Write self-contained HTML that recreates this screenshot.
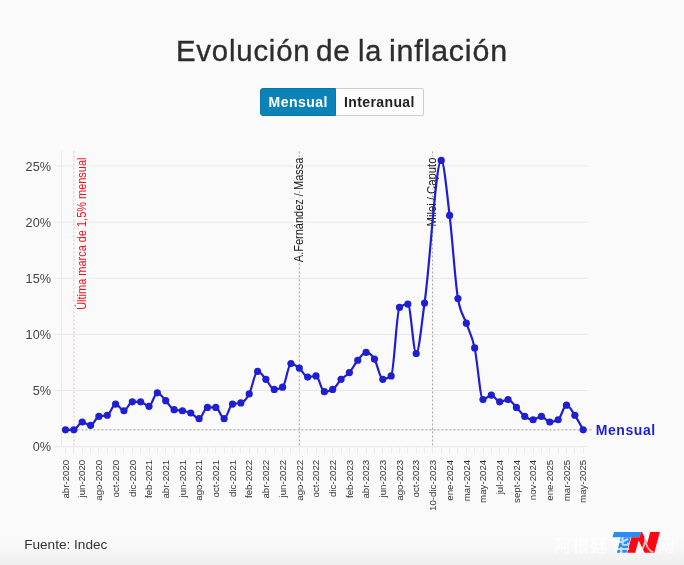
<!DOCTYPE html>
<html lang="es"><head><meta charset="utf-8"><title>Evolución de la inflación</title>
<style>
html,body{margin:0;padding:0}
body{width:684px;height:565px;overflow:hidden;position:relative;background:#fafafa;font-family:"Liberation Sans",sans-serif;}
.bg{position:absolute;left:0;top:0;width:684px;height:565px;background:linear-gradient(to bottom,rgba(0,0,0,0) 0,rgba(0,0,0,0) 538px,rgba(0,0,0,0.012) 549px,rgba(0,0,0,0.05) 565px)}
h1{position:absolute;left:0;top:30.5px;width:684px;height:40px;margin:0;font-weight:normal;font-size:29.2px;line-height:40px;color:#2d2d2d;white-space:nowrap}
h1 span{-webkit-text-stroke:0.35px #2d2d2d;position:absolute;top:0;display:block;transform-origin:0 50%;letter-spacing:0.8px}
.btns{position:absolute;left:260px;top:88px;height:28px;display:flex;font-size:14px;font-weight:bold;line-height:28px}
.b1{letter-spacing:0.5px;text-indent:0.5px;width:76px;height:28px;background:#0b82b8;color:#fff;text-align:center;border-radius:3px 0 0 3px;box-sizing:border-box;border:1px solid #0a78aa}
.b2{letter-spacing:0.38px;text-indent:0.4px;width:87.5px;height:28px;background:#fdfdfd;color:#222;text-align:center;border-radius:0 3px 3px 0;box-sizing:border-box;border:1px solid #cfcfcf;border-left:none;line-height:27px}
.b1{line-height:27px}
.src{position:absolute;left:24.2px;top:534.5px;font-size:13.6px;line-height:20px;color:#333}
.wm{position:absolute;left:0;top:0;font-family:"Liberation Sans","Noto Sans CJK SC",sans-serif;font-size:17.4px;font-weight:500;line-height:20px;color:#fff;opacity:.7}
.wm span{position:absolute;top:536.2px;white-space:nowrap;letter-spacing:0.9px}
svg text{font-family:"Liberation Sans",sans-serif}
</style></head><body>
<div class="bg"></div>
<h1><span style="left:175.9px;transform:scaleX(1.005)">Evolución</span> <span style="left:316.2px;transform:scaleX(1.02)">de</span> <span style="left:358.2px;transform:scaleX(0.99)">la</span> <span style="left:388.9px;transform:scaleX(1.04)">inflación</span></h1>
<div class="btns"><div class="b1">Mensual</div><div class="b2">Interanual</div></div>
<svg width="684" height="565" viewBox="0 0 684 565" style="position:absolute;left:0;top:0">
<line x1="54.5" x2="587.5" y1="446.70" y2="446.70" stroke="#e8e8e8" stroke-width="1"/>
<text x="51" y="451.40" text-anchor="end" font-size="12.7" fill="#444" class="yl">0%</text>
<line x1="54.5" x2="587.5" y1="390.56" y2="390.56" stroke="#e8e8e8" stroke-width="1"/>
<text x="51" y="395.26" text-anchor="end" font-size="12.7" fill="#444" class="yl">5%</text>
<line x1="54.5" x2="587.5" y1="334.42" y2="334.42" stroke="#e8e8e8" stroke-width="1"/>
<text x="51" y="339.12" text-anchor="end" font-size="12.7" fill="#444" class="yl">10%</text>
<line x1="54.5" x2="587.5" y1="278.28" y2="278.28" stroke="#e8e8e8" stroke-width="1"/>
<text x="51" y="282.98" text-anchor="end" font-size="12.7" fill="#444" class="yl">15%</text>
<line x1="54.5" x2="587.5" y1="222.14" y2="222.14" stroke="#e8e8e8" stroke-width="1"/>
<text x="51" y="226.84" text-anchor="end" font-size="12.7" fill="#444" class="yl">20%</text>
<line x1="54.5" x2="587.5" y1="166.00" y2="166.00" stroke="#e8e8e8" stroke-width="1"/>
<text x="51" y="170.70" text-anchor="end" font-size="12.7" fill="#444" class="yl">25%</text>
<line x1="61.5" x2="61.5" y1="151" y2="446.70" stroke="#eaeaea" stroke-width="1"/>
<line x1="65.50" x2="65.50" y1="446.70" y2="453.70" stroke="#ededed" stroke-width="1"/>
<line x1="73.50" x2="73.50" y1="446.70" y2="453.70" stroke="#ededed" stroke-width="1"/>
<line x1="82.50" x2="82.50" y1="446.70" y2="453.70" stroke="#ededed" stroke-width="1"/>
<line x1="90.50" x2="90.50" y1="446.70" y2="453.70" stroke="#ededed" stroke-width="1"/>
<line x1="98.50" x2="98.50" y1="446.70" y2="453.70" stroke="#ededed" stroke-width="1"/>
<line x1="107.50" x2="107.50" y1="446.70" y2="453.70" stroke="#ededed" stroke-width="1"/>
<line x1="115.50" x2="115.50" y1="446.70" y2="453.70" stroke="#ededed" stroke-width="1"/>
<line x1="123.50" x2="123.50" y1="446.70" y2="453.70" stroke="#ededed" stroke-width="1"/>
<line x1="132.50" x2="132.50" y1="446.70" y2="453.70" stroke="#ededed" stroke-width="1"/>
<line x1="140.50" x2="140.50" y1="446.70" y2="453.70" stroke="#ededed" stroke-width="1"/>
<line x1="149.50" x2="149.50" y1="446.70" y2="453.70" stroke="#ededed" stroke-width="1"/>
<line x1="157.50" x2="157.50" y1="446.70" y2="453.70" stroke="#ededed" stroke-width="1"/>
<line x1="165.50" x2="165.50" y1="446.70" y2="453.70" stroke="#ededed" stroke-width="1"/>
<line x1="174.50" x2="174.50" y1="446.70" y2="453.70" stroke="#ededed" stroke-width="1"/>
<line x1="182.50" x2="182.50" y1="446.70" y2="453.70" stroke="#ededed" stroke-width="1"/>
<line x1="190.50" x2="190.50" y1="446.70" y2="453.70" stroke="#ededed" stroke-width="1"/>
<line x1="199.50" x2="199.50" y1="446.70" y2="453.70" stroke="#ededed" stroke-width="1"/>
<line x1="207.50" x2="207.50" y1="446.70" y2="453.70" stroke="#ededed" stroke-width="1"/>
<line x1="215.50" x2="215.50" y1="446.70" y2="453.70" stroke="#ededed" stroke-width="1"/>
<line x1="224.50" x2="224.50" y1="446.70" y2="453.70" stroke="#ededed" stroke-width="1"/>
<line x1="232.50" x2="232.50" y1="446.70" y2="453.70" stroke="#ededed" stroke-width="1"/>
<line x1="240.50" x2="240.50" y1="446.70" y2="453.70" stroke="#ededed" stroke-width="1"/>
<line x1="249.50" x2="249.50" y1="446.70" y2="453.70" stroke="#ededed" stroke-width="1"/>
<line x1="257.50" x2="257.50" y1="446.70" y2="453.70" stroke="#ededed" stroke-width="1"/>
<line x1="265.50" x2="265.50" y1="446.70" y2="453.70" stroke="#ededed" stroke-width="1"/>
<line x1="274.50" x2="274.50" y1="446.70" y2="453.70" stroke="#ededed" stroke-width="1"/>
<line x1="282.50" x2="282.50" y1="446.70" y2="453.70" stroke="#ededed" stroke-width="1"/>
<line x1="290.50" x2="290.50" y1="446.70" y2="453.70" stroke="#ededed" stroke-width="1"/>
<line x1="299.50" x2="299.50" y1="446.70" y2="453.70" stroke="#ededed" stroke-width="1"/>
<line x1="307.50" x2="307.50" y1="446.70" y2="453.70" stroke="#ededed" stroke-width="1"/>
<line x1="316.50" x2="316.50" y1="446.70" y2="453.70" stroke="#ededed" stroke-width="1"/>
<line x1="324.50" x2="324.50" y1="446.70" y2="453.70" stroke="#ededed" stroke-width="1"/>
<line x1="332.50" x2="332.50" y1="446.70" y2="453.70" stroke="#ededed" stroke-width="1"/>
<line x1="341.50" x2="341.50" y1="446.70" y2="453.70" stroke="#ededed" stroke-width="1"/>
<line x1="349.50" x2="349.50" y1="446.70" y2="453.70" stroke="#ededed" stroke-width="1"/>
<line x1="357.50" x2="357.50" y1="446.70" y2="453.70" stroke="#ededed" stroke-width="1"/>
<line x1="366.50" x2="366.50" y1="446.70" y2="453.70" stroke="#ededed" stroke-width="1"/>
<line x1="374.50" x2="374.50" y1="446.70" y2="453.70" stroke="#ededed" stroke-width="1"/>
<line x1="382.50" x2="382.50" y1="446.70" y2="453.70" stroke="#ededed" stroke-width="1"/>
<line x1="391.50" x2="391.50" y1="446.70" y2="453.70" stroke="#ededed" stroke-width="1"/>
<line x1="399.50" x2="399.50" y1="446.70" y2="453.70" stroke="#ededed" stroke-width="1"/>
<line x1="407.50" x2="407.50" y1="446.70" y2="453.70" stroke="#ededed" stroke-width="1"/>
<line x1="416.50" x2="416.50" y1="446.70" y2="453.70" stroke="#ededed" stroke-width="1"/>
<line x1="424.50" x2="424.50" y1="446.70" y2="453.70" stroke="#ededed" stroke-width="1"/>
<line x1="432.50" x2="432.50" y1="446.70" y2="453.70" stroke="#ededed" stroke-width="1"/>
<line x1="441.50" x2="441.50" y1="446.70" y2="453.70" stroke="#ededed" stroke-width="1"/>
<line x1="449.50" x2="449.50" y1="446.70" y2="453.70" stroke="#ededed" stroke-width="1"/>
<line x1="457.50" x2="457.50" y1="446.70" y2="453.70" stroke="#ededed" stroke-width="1"/>
<line x1="466.50" x2="466.50" y1="446.70" y2="453.70" stroke="#ededed" stroke-width="1"/>
<line x1="474.50" x2="474.50" y1="446.70" y2="453.70" stroke="#ededed" stroke-width="1"/>
<line x1="483.50" x2="483.50" y1="446.70" y2="453.70" stroke="#ededed" stroke-width="1"/>
<line x1="491.50" x2="491.50" y1="446.70" y2="453.70" stroke="#ededed" stroke-width="1"/>
<line x1="499.50" x2="499.50" y1="446.70" y2="453.70" stroke="#ededed" stroke-width="1"/>
<line x1="508.50" x2="508.50" y1="446.70" y2="453.70" stroke="#ededed" stroke-width="1"/>
<line x1="516.50" x2="516.50" y1="446.70" y2="453.70" stroke="#ededed" stroke-width="1"/>
<line x1="524.50" x2="524.50" y1="446.70" y2="453.70" stroke="#ededed" stroke-width="1"/>
<line x1="533.50" x2="533.50" y1="446.70" y2="453.70" stroke="#ededed" stroke-width="1"/>
<line x1="541.50" x2="541.50" y1="446.70" y2="453.70" stroke="#ededed" stroke-width="1"/>
<line x1="549.50" x2="549.50" y1="446.70" y2="453.70" stroke="#ededed" stroke-width="1"/>
<line x1="558.50" x2="558.50" y1="446.70" y2="453.70" stroke="#ededed" stroke-width="1"/>
<line x1="566.50" x2="566.50" y1="446.70" y2="453.70" stroke="#ededed" stroke-width="1"/>
<line x1="574.50" x2="574.50" y1="446.70" y2="453.70" stroke="#ededed" stroke-width="1"/>
<line x1="583.50" x2="583.50" y1="446.70" y2="453.70" stroke="#ededed" stroke-width="1"/>
<text transform="translate(68.70,459.8) rotate(-90)" text-anchor="end" font-size="9.7" fill="#333" class="xl">abr-2020</text>
<text transform="translate(85.40,459.8) rotate(-90)" text-anchor="end" font-size="9.7" fill="#333" class="xl">jun-2020</text>
<text transform="translate(102.10,459.8) rotate(-90)" text-anchor="end" font-size="9.7" fill="#333" class="xl">ago-2020</text>
<text transform="translate(118.80,459.8) rotate(-90)" text-anchor="end" font-size="9.7" fill="#333" class="xl">oct-2020</text>
<text transform="translate(135.50,459.8) rotate(-90)" text-anchor="end" font-size="9.7" fill="#333" class="xl">dic-2020</text>
<text transform="translate(152.20,459.8) rotate(-90)" text-anchor="end" font-size="9.7" fill="#333" class="xl">feb-2021</text>
<text transform="translate(168.90,459.8) rotate(-90)" text-anchor="end" font-size="9.7" fill="#333" class="xl">abr-2021</text>
<text transform="translate(185.60,459.8) rotate(-90)" text-anchor="end" font-size="9.7" fill="#333" class="xl">jun-2021</text>
<text transform="translate(202.30,459.8) rotate(-90)" text-anchor="end" font-size="9.7" fill="#333" class="xl">ago-2021</text>
<text transform="translate(219.00,459.8) rotate(-90)" text-anchor="end" font-size="9.7" fill="#333" class="xl">oct-2021</text>
<text transform="translate(235.70,459.8) rotate(-90)" text-anchor="end" font-size="9.7" fill="#333" class="xl">dic-2021</text>
<text transform="translate(252.40,459.8) rotate(-90)" text-anchor="end" font-size="9.7" fill="#333" class="xl">feb-2022</text>
<text transform="translate(269.10,459.8) rotate(-90)" text-anchor="end" font-size="9.7" fill="#333" class="xl">abr-2022</text>
<text transform="translate(285.80,459.8) rotate(-90)" text-anchor="end" font-size="9.7" fill="#333" class="xl">jun-2022</text>
<text transform="translate(302.50,459.8) rotate(-90)" text-anchor="end" font-size="9.7" fill="#333" class="xl">ago-2022</text>
<text transform="translate(319.20,459.8) rotate(-90)" text-anchor="end" font-size="9.7" fill="#333" class="xl">oct-2022</text>
<text transform="translate(335.90,459.8) rotate(-90)" text-anchor="end" font-size="9.7" fill="#333" class="xl">dic-2022</text>
<text transform="translate(352.60,459.8) rotate(-90)" text-anchor="end" font-size="9.7" fill="#333" class="xl">feb-2023</text>
<text transform="translate(369.30,459.8) rotate(-90)" text-anchor="end" font-size="9.7" fill="#333" class="xl">abr-2023</text>
<text transform="translate(386.00,459.8) rotate(-90)" text-anchor="end" font-size="9.7" fill="#333" class="xl">jun-2023</text>
<text transform="translate(402.70,459.8) rotate(-90)" text-anchor="end" font-size="9.7" fill="#333" class="xl">ago-2023</text>
<text transform="translate(419.40,459.8) rotate(-90)" text-anchor="end" font-size="9.7" fill="#333" class="xl">oct-2023</text>
<text transform="translate(436.10,459.8) rotate(-90)" text-anchor="end" font-size="9.7" fill="#333" class="xl">10-dic-2023</text>
<text transform="translate(452.80,459.8) rotate(-90)" text-anchor="end" font-size="9.7" fill="#333" class="xl">ene-2024</text>
<text transform="translate(469.50,459.8) rotate(-90)" text-anchor="end" font-size="9.7" fill="#333" class="xl">mar-2024</text>
<text transform="translate(486.20,459.8) rotate(-90)" text-anchor="end" font-size="9.7" fill="#333" class="xl">may-2024</text>
<text transform="translate(502.90,459.8) rotate(-90)" text-anchor="end" font-size="9.7" fill="#333" class="xl">jul-2024</text>
<text transform="translate(519.60,459.8) rotate(-90)" text-anchor="end" font-size="9.7" fill="#333" class="xl">sept-2024</text>
<text transform="translate(536.30,459.8) rotate(-90)" text-anchor="end" font-size="9.7" fill="#333" class="xl">nov-2024</text>
<text transform="translate(553.00,459.8) rotate(-90)" text-anchor="end" font-size="9.7" fill="#333" class="xl">ene-2025</text>
<text transform="translate(569.70,459.8) rotate(-90)" text-anchor="end" font-size="9.7" fill="#333" class="xl">mar-2025</text>
<text transform="translate(586.40,459.8) rotate(-90)" text-anchor="end" font-size="9.7" fill="#333" class="xl">may-2025</text>
<line x1="73.9" x2="73.9" y1="151.4" y2="446.70" stroke="#f8b4bb" stroke-width="1" stroke-dasharray="2,2"/>
<line x1="299.3" x2="299.3" y1="151.4" y2="446.70" stroke="#a3a3a3" stroke-width="1" stroke-dasharray="2,2"/>
<line x1="432.6" x2="432.6" y1="151.4" y2="446.70" stroke="#a3a3a3" stroke-width="1" stroke-dasharray="2,2"/>
<line x1="73.4" x2="591.6" y1="429.86" y2="429.86" stroke="#9a9a9a" stroke-width="1" stroke-dasharray="2,2"/>
<text transform="translate(85.5,157.6) rotate(-90)" text-anchor="end" font-size="12" textLength="152.2" lengthAdjust="spacingAndGlyphs" fill="#f80d1a" class="an" stroke="#fafafa" stroke-width="3" paint-order="stroke" stroke-linejoin="round">Última marca de 1,5% mensual</text>
<text transform="translate(302.6,157.6) rotate(-90)" text-anchor="end" font-size="12" textLength="104.6" lengthAdjust="spacingAndGlyphs" fill="#1a1a1a" class="an" stroke="#fafafa" stroke-width="3" paint-order="stroke" stroke-linejoin="round">A.Fernández / Massa</text>
<text transform="translate(435.6,157.6) rotate(-90)" text-anchor="end" font-size="12" textLength="68.8" lengthAdjust="spacingAndGlyphs" fill="#1a1a1a" class="an" stroke="#fafafa" stroke-width="3" paint-order="stroke" stroke-linejoin="round">Milei / Caputo</text>
<path d="M65.50,429.86C68.28,429.86,71.07,429.86,73.85,429.86C76.63,429.86,79.42,422.00,82.20,422.00C84.98,422.00,87.77,425.37,90.55,425.37C93.33,425.37,96.12,417.13,98.90,416.38C101.68,415.64,104.47,416.01,107.25,415.26C110.03,414.51,112.82,404.03,115.60,404.03C118.38,404.03,121.17,410.77,123.95,410.77C126.73,410.77,129.52,401.79,132.30,401.79C135.08,401.79,137.87,401.79,140.65,401.79C143.43,401.79,146.22,406.28,149.00,406.28C151.78,406.28,154.57,392.81,157.35,392.81C160.13,392.81,162.92,397.86,165.70,400.67C168.48,403.47,171.27,408.90,174.05,409.65C176.83,410.40,179.62,410.21,182.40,410.77C185.18,411.33,187.97,411.71,190.75,413.02C193.53,414.33,196.32,418.63,199.10,418.63C201.88,418.63,204.67,407.40,207.45,407.40C210.23,407.40,213.02,407.40,215.80,407.40C218.58,407.40,221.37,418.63,224.15,418.63C226.93,418.63,229.72,404.78,232.50,404.03C235.28,403.29,238.07,403.66,240.85,402.91C243.63,402.16,246.42,399.17,249.20,393.93C251.98,388.69,254.77,371.47,257.55,371.47C260.33,371.47,263.12,376.34,265.90,379.33C268.68,382.33,271.47,389.44,274.25,389.44C277.03,389.44,279.82,388.69,282.60,387.19C285.38,385.69,288.17,363.61,290.95,363.61C293.73,363.61,296.52,365.86,299.30,368.10C302.08,370.35,304.87,377.09,307.65,377.09C310.43,377.09,313.22,375.96,316.00,375.96C318.78,375.96,321.57,391.68,324.35,391.68C327.13,391.68,329.92,390.93,332.70,389.44C335.48,387.94,338.27,382.14,341.05,379.33C343.83,376.52,346.62,375.78,349.40,372.60C352.18,369.41,354.97,363.61,357.75,360.24C360.53,356.88,363.32,352.38,366.10,352.38C368.88,352.38,371.67,354.63,374.45,359.12C377.23,363.61,380.02,379.33,382.80,379.33C385.58,379.33,388.37,378.21,391.15,375.96C393.93,373.72,396.72,309.72,399.50,307.47C402.28,305.23,405.07,304.10,407.85,304.10C410.63,304.10,413.42,353.51,416.20,353.51C418.98,353.51,421.77,322.13,424.55,302.98C430.12,264.68,435.68,160.39,441.25,160.39C444.03,160.39,446.82,192.39,449.60,215.40C452.38,238.42,455.17,282.02,457.95,298.49C460.73,314.96,463.52,314.96,466.30,323.19C469.08,331.43,471.87,335.17,474.65,347.89C477.43,360.62,480.22,399.54,483.00,399.54C485.78,399.54,488.57,395.05,491.35,395.05C494.13,395.05,496.92,401.79,499.70,401.79C502.48,401.79,505.27,399.54,508.05,399.54C510.83,399.54,513.62,404.59,516.40,407.40C519.18,410.21,521.97,414.33,524.75,416.38C527.53,418.44,530.32,419.75,533.10,419.75C535.88,419.75,538.67,416.38,541.45,416.38C544.23,416.38,547.02,422.00,549.80,422.00C552.58,422.00,555.37,421.25,558.15,419.75C560.93,418.26,563.72,405.16,566.50,405.16C569.28,405.16,572.07,411.14,574.85,415.26C577.63,419.38,580.42,424.62,583.20,429.86" fill="none" stroke="#1f1fd1" stroke-width="2.2" stroke-linejoin="round" stroke-linecap="round"/>
<circle cx="65.50" cy="429.86" r="3.6" fill="#1f1fd1"/>
<circle cx="73.85" cy="429.86" r="3.6" fill="#1f1fd1"/>
<circle cx="82.20" cy="422.00" r="3.6" fill="#1f1fd1"/>
<circle cx="90.55" cy="425.37" r="3.6" fill="#1f1fd1"/>
<circle cx="98.90" cy="416.38" r="3.6" fill="#1f1fd1"/>
<circle cx="107.25" cy="415.26" r="3.6" fill="#1f1fd1"/>
<circle cx="115.60" cy="404.03" r="3.6" fill="#1f1fd1"/>
<circle cx="123.95" cy="410.77" r="3.6" fill="#1f1fd1"/>
<circle cx="132.30" cy="401.79" r="3.6" fill="#1f1fd1"/>
<circle cx="140.65" cy="401.79" r="3.6" fill="#1f1fd1"/>
<circle cx="149.00" cy="406.28" r="3.6" fill="#1f1fd1"/>
<circle cx="157.35" cy="392.81" r="3.6" fill="#1f1fd1"/>
<circle cx="165.70" cy="400.67" r="3.6" fill="#1f1fd1"/>
<circle cx="174.05" cy="409.65" r="3.6" fill="#1f1fd1"/>
<circle cx="182.40" cy="410.77" r="3.6" fill="#1f1fd1"/>
<circle cx="190.75" cy="413.02" r="3.6" fill="#1f1fd1"/>
<circle cx="199.10" cy="418.63" r="3.6" fill="#1f1fd1"/>
<circle cx="207.45" cy="407.40" r="3.6" fill="#1f1fd1"/>
<circle cx="215.80" cy="407.40" r="3.6" fill="#1f1fd1"/>
<circle cx="224.15" cy="418.63" r="3.6" fill="#1f1fd1"/>
<circle cx="232.50" cy="404.03" r="3.6" fill="#1f1fd1"/>
<circle cx="240.85" cy="402.91" r="3.6" fill="#1f1fd1"/>
<circle cx="249.20" cy="393.93" r="3.6" fill="#1f1fd1"/>
<circle cx="257.55" cy="371.47" r="3.6" fill="#1f1fd1"/>
<circle cx="265.90" cy="379.33" r="3.6" fill="#1f1fd1"/>
<circle cx="274.25" cy="389.44" r="3.6" fill="#1f1fd1"/>
<circle cx="282.60" cy="387.19" r="3.6" fill="#1f1fd1"/>
<circle cx="290.95" cy="363.61" r="3.6" fill="#1f1fd1"/>
<circle cx="299.30" cy="368.10" r="3.6" fill="#1f1fd1"/>
<circle cx="307.65" cy="377.09" r="3.6" fill="#1f1fd1"/>
<circle cx="316.00" cy="375.96" r="3.6" fill="#1f1fd1"/>
<circle cx="324.35" cy="391.68" r="3.6" fill="#1f1fd1"/>
<circle cx="332.70" cy="389.44" r="3.6" fill="#1f1fd1"/>
<circle cx="341.05" cy="379.33" r="3.6" fill="#1f1fd1"/>
<circle cx="349.40" cy="372.60" r="3.6" fill="#1f1fd1"/>
<circle cx="357.75" cy="360.24" r="3.6" fill="#1f1fd1"/>
<circle cx="366.10" cy="352.38" r="3.6" fill="#1f1fd1"/>
<circle cx="374.45" cy="359.12" r="3.6" fill="#1f1fd1"/>
<circle cx="382.80" cy="379.33" r="3.6" fill="#1f1fd1"/>
<circle cx="391.15" cy="375.96" r="3.6" fill="#1f1fd1"/>
<circle cx="399.50" cy="307.47" r="3.6" fill="#1f1fd1"/>
<circle cx="407.85" cy="304.10" r="3.6" fill="#1f1fd1"/>
<circle cx="416.20" cy="353.51" r="3.6" fill="#1f1fd1"/>
<circle cx="424.55" cy="302.98" r="3.6" fill="#1f1fd1"/>
<circle cx="441.25" cy="160.39" r="3.6" fill="#1f1fd1"/>
<circle cx="449.60" cy="215.40" r="3.6" fill="#1f1fd1"/>
<circle cx="457.95" cy="298.49" r="3.6" fill="#1f1fd1"/>
<circle cx="466.30" cy="323.19" r="3.6" fill="#1f1fd1"/>
<circle cx="474.65" cy="347.89" r="3.6" fill="#1f1fd1"/>
<circle cx="483.00" cy="399.54" r="3.6" fill="#1f1fd1"/>
<circle cx="491.35" cy="395.05" r="3.6" fill="#1f1fd1"/>
<circle cx="499.70" cy="401.79" r="3.6" fill="#1f1fd1"/>
<circle cx="508.05" cy="399.54" r="3.6" fill="#1f1fd1"/>
<circle cx="516.40" cy="407.40" r="3.6" fill="#1f1fd1"/>
<circle cx="524.75" cy="416.38" r="3.6" fill="#1f1fd1"/>
<circle cx="533.10" cy="419.75" r="3.6" fill="#1f1fd1"/>
<circle cx="541.45" cy="416.38" r="3.6" fill="#1f1fd1"/>
<circle cx="549.80" cy="422.00" r="3.6" fill="#1f1fd1"/>
<circle cx="558.15" cy="419.75" r="3.6" fill="#1f1fd1"/>
<circle cx="566.50" cy="405.16" r="3.6" fill="#1f1fd1"/>
<circle cx="574.85" cy="415.26" r="3.6" fill="#1f1fd1"/>
<circle cx="583.20" cy="429.86" r="3.6" fill="#1f1fd1"/>
<text x="595.8" y="434.9" letter-spacing="0.55" font-size="14" font-weight="bold" fill="#1f1fd1" class="ml">Mensual</text>
</svg>
<div class="src">Fuente: Indec</div>
<svg width="684" height="565" viewBox="0 0 684 565" style="position:absolute;left:0;top:0">
<polygon points="614,532 641,532 639.6,537.3 612.5,537.3" fill="#2a8df2"/>
<polygon points="620.9,537.3 630.7,537.3 626.5,552.7 616.9,552.7" fill="#2a8df2"/>
<polygon points="627.2,552.7 631.4,537.3 639.6,537.3 641,532 642,532 647.3,543.3 650.2,532 659.9,532 654.3,552.7 644.6,552.7 638.6,540.6 635.2,552.7" fill="#fb0812"/>
</svg>
<div class="wm"><span style="left:553.6px">阿根廷</span><span style="left:612.5px;font-weight:bold">华</span><span style="left:636.8px">人</span><span style="left:657.3px">网</span></div>
</body></html>
